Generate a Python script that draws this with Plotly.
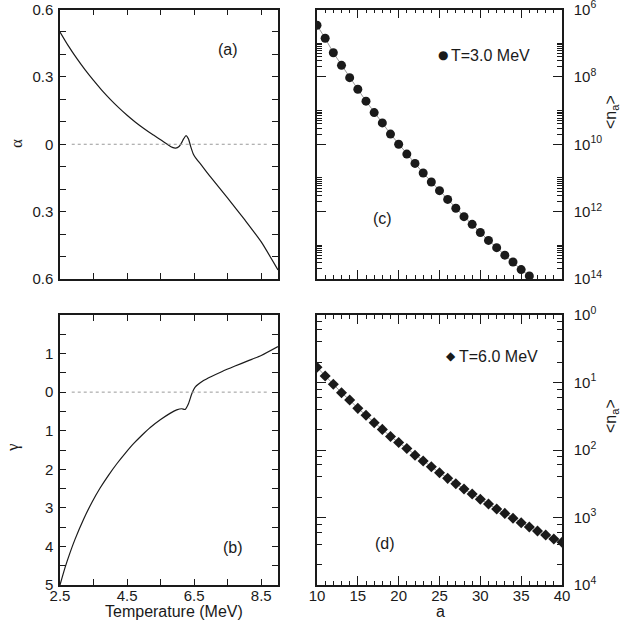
import plotly.graph_objects as go

# panel (a): alpha vs temperature
temp_alpha = [2.5, 2.75, 3.0, 3.25, 3.5, 3.75, 4.0, 4.25, 4.5, 4.75, 5.0, 5.25, 5.5, 5.7, 5.85,
              5.95, 6.05, 6.12, 6.19, 6.26, 6.33, 6.4, 6.47, 6.55, 6.7, 6.88, 7.0, 7.5, 8.0, 8.5, 9.0]
alpha = [0.50, 0.438, 0.382, 0.331, 0.284, 0.240, 0.200, 0.163, 0.129, 0.098, 0.070, 0.044, 0.020, 0.0, -0.014,
         -0.017, -0.010, 0.005, 0.025, 0.038, 0.024, -0.012, -0.042, -0.062, -0.09, -0.125, -0.148, -0.24, -0.335,
         -0.435, -0.56]

# panel (b): gamma vs temperature
temp_gamma = [2.5, 2.65, 2.8, 2.95, 3.2, 3.45, 3.7, 3.95, 4.2, 4.45, 4.7, 4.95, 5.2, 5.5, 5.78,
              5.98, 6.13, 6.23, 6.33, 6.43, 6.53, 6.78, 7.0, 7.32, 7.7, 8.1, 8.5, 9.0]
gamma = [-5.0, -4.55, -4.16, -3.81, -3.30, -2.86, -2.48, -2.15, -1.85, -1.58, -1.33, -1.11, -0.91, -0.71, -0.55,
         -0.46, -0.43, -0.45, -0.30, -0.04, 0.13, 0.30, 0.40, 0.53, 0.67, 0.81, 0.95, 1.18]

# panel (c): <n_a> at T=3.0 MeV
a_c = list(range(10, 37))
n_c = [3.4e-7, 1.4e-7, 5.2e-8, 2.2e-8, 9.5e-9, 4.3e-9, 1.9e-9, 8.7e-10, 4.3e-10, 2.0e-10,
       1.0e-10, 5.1e-11, 2.7e-11, 1.4e-11, 7.6e-12, 4.2e-12, 2.3e-12, 1.26e-12, 7.1e-13, 4.2e-13,
       2.4e-13, 1.4e-13, 8.5e-14, 5.1e-14, 3.2e-14, 1.9e-14, 1.23e-14]

# panel (d): <n_a> at T=6.0 MeV
a_d = list(range(10, 41))
n_d = [0.168, 0.125, 0.094, 0.0706, 0.0551, 0.0414, 0.0327, 0.0254, 0.0202, 0.0159,
       0.0129, 0.0105, 0.00834, 0.00687, 0.00566, 0.00461, 0.0038, 0.00317, 0.00264, 0.00223,
       0.00186, 0.00158, 0.00134, 0.00115, 0.000973, 0.000838, 0.000723, 0.000631, 0.000551, 0.00048,
       0.000429]

alpha_ticks = [-0.6, -0.3, 0, 0.3, 0.6]
alpha_ticktext = ['0.6', '0.3', '0', '0.3', '0.6']
gamma_ticks = [-5, -4, -3, -2, -1, 0, 1]
gamma_ticktext = ['5', '4', '3', '2', '1', '0', '1']
c_ticks = [1e-14, 1e-12, 1e-10, 1e-8, 1e-6]
c_ticktext = ['10<sup>14</sup>', '10<sup>12</sup>', '10<sup>10</sup>', '10<sup>8</sup>', '10<sup>6</sup>']
c_minor = [k * 10.0 ** e for e in (-14, -12, -10, -8) for k in range(2, 11)]
d_ticks = [1e-4, 1e-3, 1e-2, 1e-1, 1]
d_ticktext = ['10<sup>4</sup>', '10<sup>3</sup>', '10<sup>2</sup>', '10<sup>1</sup>', '10<sup>0</sup>']
d_minor = [k * 10.0 ** e for e in (-4, -3, -2, -1) for k in (2, 4, 6, 8)]

W = H = 623
FONT = 'Liberation Sans, Arial, sans-serif'
INK = '#1a1a1a'


def px_x(p):
    return p / W


def px_y(p):
    return 1 - p / H


LEFT_DOM = [px_x(60), px_x(278)]
RIGHT_DOM = [px_x(317), px_x(562)]
TOP_DOM = [px_y(279), px_y(9.5)]
BOT_DOM = [px_y(585), px_y(315)]

fig = go.Figure()

fig.add_trace(go.Scatter(x=temp_alpha, y=alpha, mode='lines', xaxis='x', yaxis='y',
                         line=dict(color=INK, width=1.2, shape='spline', smoothing=0.6), showlegend=False))
fig.add_trace(go.Scatter(x=temp_gamma, y=gamma, mode='lines', xaxis='x2', yaxis='y2',
                         line=dict(color=INK, width=1.2, shape='spline', smoothing=0.6), showlegend=False))
fig.add_trace(go.Scatter(x=a_c, y=n_c, mode='lines+markers', xaxis='x3', yaxis='y3',
                         line=dict(color='#999999', width=1),
                         marker=dict(symbol='circle', size=9, color=INK), showlegend=False))
fig.add_trace(go.Scatter(x=a_d, y=n_d, mode='lines+markers', xaxis='x4', yaxis='y4',
                         line=dict(color='#999999', width=1),
                         marker=dict(symbol='diamond', size=8.5, color=INK), showlegend=False))

base_axis = dict(showline=True, linecolor=INK, linewidth=1.5, mirror='ticks', ticks='inside',
                 tickcolor=INK, tickwidth=1, showgrid=False, zeroline=False, automargin=False,
                 ticklabeloverflow='allow', tickfont=dict(family=FONT, size=15, color=INK))

temp_axis = dict(base_axis, range=[2.5, 9.0], tickmode='array', tickvals=[2.5, 4.5, 6.5, 8.5],
                 ticklen=6, minor=dict(ticks='inside', dtick=1, tick0=2.5, ticklen=6, tickcolor=INK))
a_axis = dict(base_axis, range=[10, 40], dtick=5, tick0=10, ticklen=9,
              minor=dict(ticks='inside', dtick=1, tick0=10, ticklen=4, tickcolor=INK))

fig.update_layout(
    template='none',
    width=W, height=H,
    margin=dict(l=0, r=0, t=0, b=0, autoexpand=False),
    plot_bgcolor='white', paper_bgcolor='white',
    font=dict(family=FONT, color=INK),
    showlegend=False,
    xaxis=dict(temp_axis, domain=LEFT_DOM, anchor='y', showticklabels=False),
    yaxis=dict(base_axis, domain=TOP_DOM, anchor='x', range=[-0.6, 0.6], tickmode='array',
               tickvals=alpha_ticks, ticktext=alpha_ticktext, ticklen=6, ticklabelstandoff=2,
               minor=dict(ticks='inside', dtick=0.1, tick0=0, ticklen=6, tickcolor=INK)),
    xaxis2=dict(temp_axis, domain=LEFT_DOM, anchor='y2', ticklabelstandoff=-4),
    yaxis2=dict(base_axis, domain=BOT_DOM, anchor='x2', range=[-5, 2], tickmode='array',
                tickvals=gamma_ticks, ticktext=gamma_ticktext, ticklen=6, ticklabelstandoff=2,
                minor=dict(ticks='inside', dtick=0.5, tick0=0, ticklen=6, tickcolor=INK)),
    xaxis3=dict(a_axis, domain=RIGHT_DOM, anchor='y3', showticklabels=False),
    yaxis3=dict(base_axis, domain=TOP_DOM, anchor='x3', type='log', range=[-14, -6], side='right',
                tickmode='array', tickvals=c_ticks, ticktext=c_ticktext, ticklen=9, ticklabelstandoff=7,
                minor=dict(ticks='inside', tickmode='array', tickvals=c_minor, ticklen=5, tickcolor=INK)),
    xaxis4=dict(a_axis, domain=RIGHT_DOM, anchor='y4', ticklabelstandoff=-4),
    yaxis4=dict(base_axis, domain=BOT_DOM, anchor='x4', type='log', range=[-4, 0], side='right',
                tickmode='array', tickvals=d_ticks, ticktext=d_ticktext, ticklen=9, ticklabelstandoff=7,
                minor=dict(ticks='inside', tickmode='array', tickvals=d_minor, ticklen=5, tickcolor=INK)),
)

# dotted zero reference lines in (a) and (b)
ZERO_X0, ZERO_X1 = 2.85, 8.67
for xr, yr in (('x', 'y'), ('x2', 'y2')):
    fig.add_shape(type='line', xref=xr, yref=yr, x0=ZERO_X0, x1=ZERO_X1, y0=0, y1=0,
                  line=dict(color='#999999', width=1, dash='dot'))


def note(text, x, y, size=16, angle=0, family=FONT, xanchor='center'):
    fig.add_annotation(text=text, x=px_x(x), y=px_y(y), xref='paper', yref='paper', showarrow=False,
                       textangle=angle, xanchor=xanchor, yanchor='middle',
                       font=dict(family=family, size=size, color=INK))


# panel labels
note('(a)', 228, 50)
note('(b)', 233, 547)
note('(c)', 382, 218)
note('(d)', 385, 543)

# legend keys
note('●', 443, 55, size=12, family='DejaVu Sans')
note('T=3.0 MeV', 449, 55, xanchor='left')
note('◆', 451, 356, size=12, family='DejaVu Sans')
note('T=6.0 MeV', 457, 356, xanchor='left')

# axis titles
note('α', 16, 144, size=17, angle=-90, family='Liberation Serif, serif')
note('γ', 12, 448, size=17, angle=-90, family='Liberation Serif, serif')
note('Temperature (MeV)', 174, 611)
note('a', 440, 611)
note('&lt;n<sub>a</sub>&gt;', 611, 112, angle=-90)
note('&lt;n<sub>a</sub>&gt;', 611, 416, angle=-90)

fig.write_html('out.html', config={'displayModeBar': False},
               post_script="document.body.style.margin='0';")
